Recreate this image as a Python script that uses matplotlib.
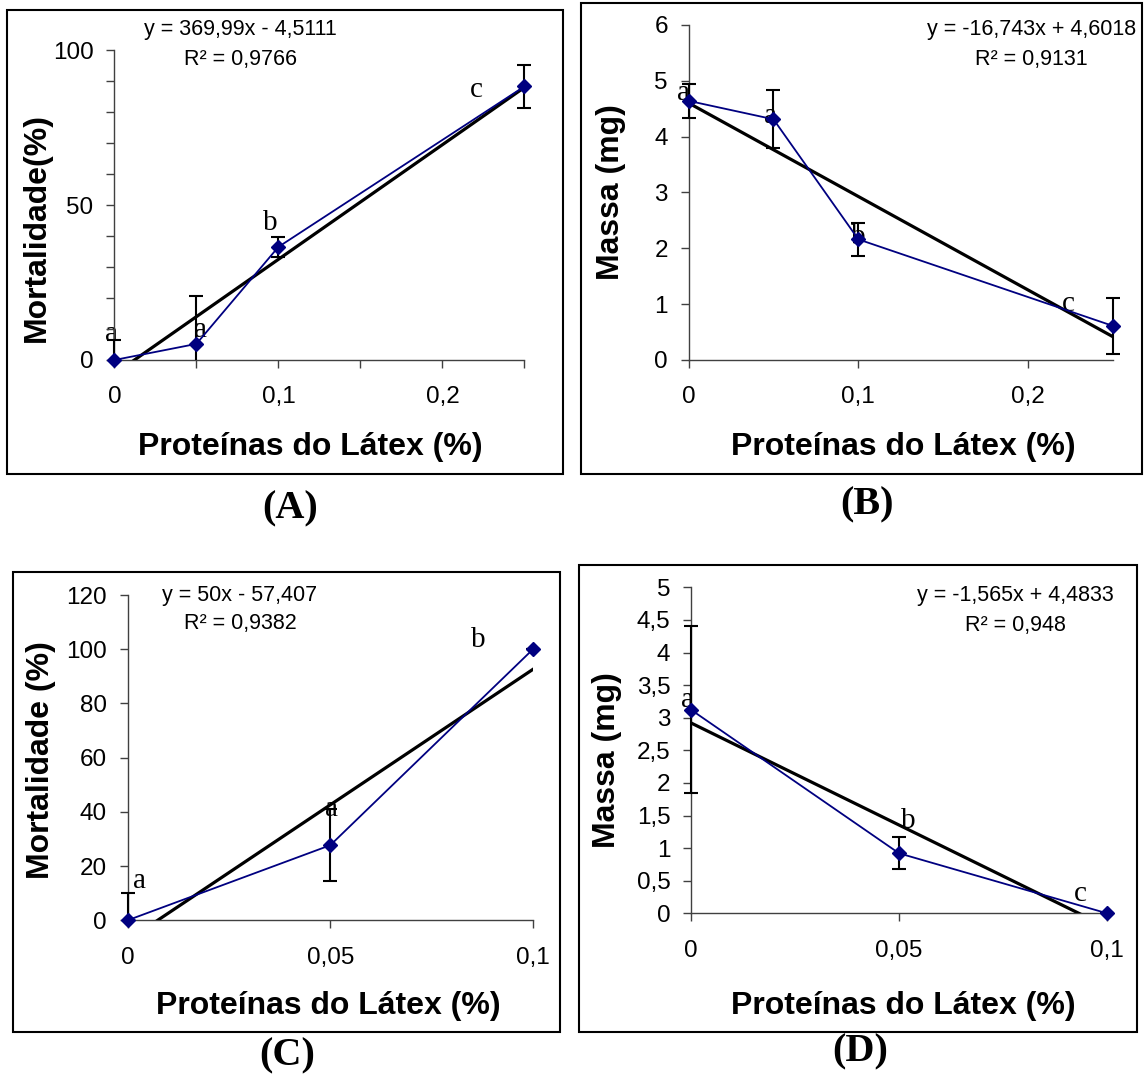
import matplotlib
matplotlib.use("Agg")
import matplotlib.pyplot as plt
from matplotlib.patches import Rectangle
import numpy as np

plt.rcParams['font.family'] = ['Liberation Sans', 'DejaVu Sans']

W, H = 1144, 1079

# ---------------- data ----------------
A_x = [0, 0.05, 0.1, 0.25]
A_y = [0, 5.2, 36.5, 88.3]
A_err = [6.4, 15.5, 3.2, 6.9]
A_trend = (369.99, -4.5111)
A_letters = ['a', 'a', 'b', 'c']
A_letter_x = [-0.0016, 0.0528, 0.095, 0.221]
A_letter_y = [6.1, 7.3, 41.9, 84.9]
A_xticks = [0, 0.05, 0.1, 0.15, 0.2, 0.25]
A_xticklabels = ['0', '', '0,1', '', '0,2', '']
A_yticks = [0, 10, 20, 30, 40, 50, 60, 70, 80, 90, 100]
A_yticklabels = ['0', '', '', '', '', '50', '', '', '', '', '100']

B_x = [0, 0.05, 0.1, 0.25]
B_y = [4.64, 4.31, 2.16, 0.61]
B_err = [0.31, 0.52, 0.29, 0.5]
B_trend = (-16.743, 4.6018)
B_letters = ['a', 'a', 'b', 'c']
B_letter_x = [-0.0028, 0.048, 0.0998, 0.2236]
B_letter_y = [4.65, 4.25, 2.08, 0.87]
B_xticks = [0, 0.1, 0.2]
B_xticklabels = ['0', '0,1', '0,2']
B_yticks = [0, 1, 2, 3, 4, 5, 6]
B_yticklabels = ['0', '1', '2', '3', '4', '5', '6']

C_x = [0, 0.05, 0.1]
C_y = [0, 27.7, 100]
C_err = [10.2, 13.2, 0]
C_trend = (1000, -7.407)
C_letters = ['a', 'a', 'b']
C_letter_x = [0.0029, 0.0503, 0.0865]
C_letter_y = [12.0, 38.4, 100.7]
C_xticks = [0, 0.05, 0.1]
C_xticklabels = ['0', '0,05', '0,1']
C_yticks = [0, 20, 40, 60, 80, 100, 120]
C_yticklabels = ['0', '20', '40', '60', '80', '100', '120']

D_x = [0, 0.05, 0.1]
D_y = [3.12, 0.92, 0]
D_err = [1.28, 0.245, 0]
D_trend = (-31.3, 2.9183)
D_letters = ['a', 'b', 'c']
D_letter_x = [-0.0009, 0.0521, 0.0935]
D_letter_y = [3.17, 1.31, 0.19]
D_xticks = [0, 0.05, 0.1]
D_xticklabels = ['0', '0,05', '0,1']
D_yticks = [0, 0.5, 1, 1.5, 2, 2.5, 3, 3.5, 4, 4.5, 5]
D_yticklabels = ['0', '0,5', '1', '1,5', '2', '2,5', '3', '3,5', '4', '4,5', '5']

xlabel = 'Proteínas do Látex (%)'

fig = plt.figure(figsize=(W / 100, H / 100), dpi=100)


def fx(x):
    return x / W


def fy(y):
    return 1 - y / H


def frame(l, t, r, b):
    fig.add_artist(Rectangle((fx(l), fy(b)), (r - l) / W, (b - t) / H,
                             transform=fig.transFigure, fill=False,
                             lw=1.5, ec='black'))


def ftext(x, y, s, **kw):
    fig.text(fx(x), fy(y), s, ha='center', va='center', **kw)


def panel(box, x, y, err, trend, letters, lx, ly, xlim, ylim,
          xticks, xtl, yticks, ytl):
    l, r, t, b = box
    ax = fig.add_axes([fx(l), fy(b), (r - l) / W, (b - t) / H])
    ax.set_xlim(*xlim)
    ax.set_ylim(*ylim)
    for s in ['top', 'right']:
        ax.spines[s].set_visible(False)
    for s in ['left', 'bottom']:
        ax.spines[s].set_color('#404040')
        ax.spines[s].set_linewidth(1.0)
    ax.patch.set_alpha(0)
    ax.set_xticks(xticks)
    ax.set_xticklabels(xtl)
    ax.set_yticks(yticks)
    ax.set_yticklabels(ytl)
    ax.tick_params(axis='both', direction='out', length=6, width=1.0,
                   color='#404040', labelsize=17.5)
    ax.tick_params(axis='x', pad=13)
    ax.tick_params(axis='y', pad=9)
    for s, xx, yy in zip(letters, lx, ly):
        ax.text(xx, yy, s, ha='center', va='baseline', fontsize=21,
                family='Liberation Serif', zorder=1)
    eb = ax.errorbar(x, y, yerr=err, fmt='none', ecolor='black',
                     elinewidth=1.5, capsize=4.7, capthick=1.5, zorder=3)
    clip = Rectangle((-0.1, 0), 1.2, 1.2, transform=ax.transAxes)
    for child in eb.get_children():
        child.set_clip_path(clip)
    xt = np.array(xlim)
    ax.plot(xt, trend[0] * xt + trend[1], color='black', lw=2.3, zorder=3)
    ax.plot(x, y, color='#000080', lw=1.3, marker='D', markersize=7,
            markerfacecolor='#000080', markeredgecolor='#000080',
            zorder=4, clip_on=False)
    return ax


# Panel A
frame(7.3, 10.4, 563, 474)
panel((114.4, 524.4, 50.2, 360), A_x, A_y, A_err, A_trend, A_letters,
      A_letter_x, A_letter_y, (0, 0.25), (0, 100),
      A_xticks, A_xticklabels, A_yticks, A_yticklabels)
ftext(240, 29.4, 'y = 369,99x - 4,5111', fontsize=15.5)
ftext(240, 59.5, 'R² = 0,9766', fontsize=15.5)
ftext(36.7, 227.6, 'Mortalidade(%)', fontsize=23, fontweight='bold', rotation=90)
ftext(310.8, 446.5, xlabel, fontsize=23, fontweight='bold')
ftext(289.7, 508.8, '(A)', fontsize=29, fontweight='bold', family='Liberation Serif')

# Panel B
frame(581, 2.8, 1142, 474)
panel((688.6, 1113, 24.9, 360), B_x, B_y, B_err, B_trend, B_letters,
      B_letter_x, B_letter_y, (0, 0.25), (0, 6),
      B_xticks, B_xticklabels, B_yticks, B_yticklabels)
ftext(1032, 29.4, 'y = -16,743x + 4,6018', fontsize=15.5)
ftext(1031, 59.5, 'R² = 0,9131', fontsize=15.5)
ftext(610.5, 192, 'Massa (mg)', fontsize=23, fontweight='bold', rotation=90)
ftext(903, 446.5, xlabel, fontsize=23, fontweight='bold')
ftext(867, 505, '(B)', fontsize=29, fontweight='bold', family='Liberation Serif')

# Panel C
frame(12.8, 571.6, 560, 1032)
panel((127.6, 533, 595, 920.3), C_x, C_y, C_err, C_trend, C_letters,
      C_letter_x, C_letter_y, (0, 0.1), (0, 120),
      C_xticks, C_xticklabels, C_yticks, C_yticklabels)
ftext(240, 595, 'y = 50x - 57,407', fontsize=15.5)
ftext(240, 623, 'R² = 0,9382', fontsize=15.5)
ftext(41, 760, 'Mortalidade (%)', fontsize=23, fontweight='bold', rotation=90)
ftext(328, 1005.8, xlabel, fontsize=23, fontweight='bold')
ftext(287, 1055.7, '(C)', fontsize=29, fontweight='bold', family='Liberation Serif')

# Panel D
frame(579.3, 565, 1136.7, 1032.4)
panel((691.2, 1107, 587.3, 913.3), D_x, D_y, D_err, D_trend, D_letters,
      D_letter_x, D_letter_y, (0, 0.1), (0, 5),
      D_xticks, D_xticklabels, D_yticks, D_yticklabels)
ftext(1015.7, 595, 'y = -1,565x + 4,4833', fontsize=15.5)
ftext(1015.7, 625, 'R² = 0,948', fontsize=15.5)
ftext(607, 760, 'Massa (mg)', fontsize=23, fontweight='bold', rotation=90)
ftext(903, 1005.8, xlabel, fontsize=23, fontweight='bold')
ftext(860, 1052, '(D)', fontsize=29, fontweight='bold', family='Liberation Serif')

fig.savefig('out.png', dpi=100)
